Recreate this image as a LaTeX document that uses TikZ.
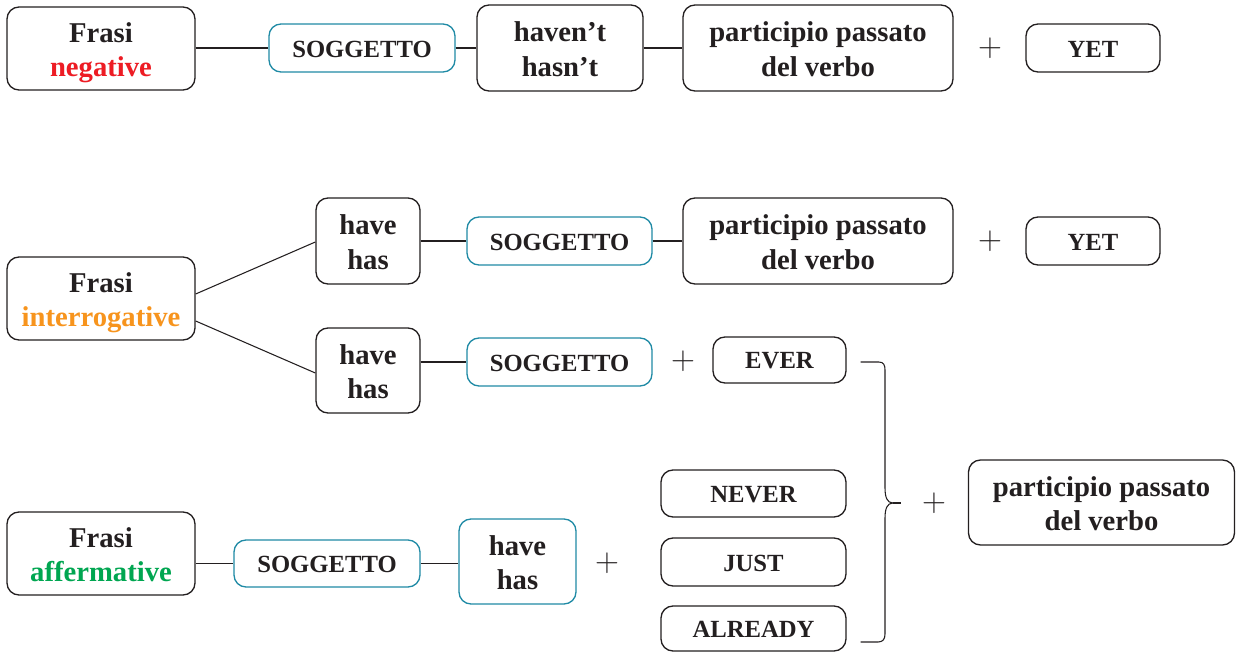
\documentclass[tikz,border=0pt]{standalone}
\usepackage{fontspec}
\setmainfont{Liberation Serif}
\usetikzlibrary{calc}
\definecolor{linec}{HTML}{231F20}
\definecolor{tealc}{HTML}{1F8AA5}
\definecolor{negc}{HTML}{ED1C24}
\definecolor{intc}{HTML}{F7941D}
\definecolor{affc}{HTML}{00A651}
\newcommand\twoline[1]{\raisebox{-3pt}[\height][\depth]{\begin{tabular}{@{}c@{}}#1\end{tabular}}}
\newcommand\oneline[1]{\raisebox{-0.8pt}[\height][\depth]{#1}}
\tikzset{
  box/.style={draw=linec, line width=1pt, rounded corners=9pt, fill=white, inner sep=0pt,
    align=center, text=linec, font=\bfseries\fontsize{21.5}{26.2}\selectfont},
  capsbox/.style={box, font=\bfseries\fontsize{18.5}{21}\selectfont},
  tealbox/.style={draw=tealc},
  sz/.style 2 args={minimum width=#1*0.75pt, minimum height=#2*0.75pt},
  plusn/.style={inner sep=0pt, text=linec, font=\fontsize{34}{34}\selectfont},
  conn/.style={draw=linec, line width=0.8pt},
}
\begin{document}
\begin{tikzpicture}[x=0.75pt,y=-0.75pt]
\useasboundingbox (0,0) rectangle (1237,652);
% row 1: negative
\node[box, sz={188}{83}] (neg) at (101,48.5) {\twoline{Frasi\\\textcolor{negc}{negative}}};
\node[capsbox, tealbox, sz={186}{48}] (sog1) at (362,48) {\oneline{SOGGETTO}};
\node[box, sz={166}{86}] (hav1) at (560,48) {\twoline{haven’t\\hasn’t}};
\node[box, sz={270}{86}] (part1) at (818,48) {\twoline{participio passato\\del verbo}};
\node[plusn] (plus1) at (990,48) {$+$};
\node[capsbox, sz={134}{48}] (yet1) at (1093,48) {\oneline{YET}};
\draw[conn] (sog1.west -| neg.east) -- (sog1.west);
\draw[conn] (sog1.east) -- (hav1.west);
\draw[conn] (hav1.east) -- (part1.west);
% row 2: interrogative
\node[box, sz={188}{83}] (int) at (101,298.5) {\twoline{Frasi\\\textcolor{intc}{interrogative}}};
\node[box, sz={104}{86}] (hh1) at (368,241) {\twoline{have\\has}};
\node[capsbox, tealbox, sz={185}{48}] (sog2) at (559.5,241) {\oneline{SOGGETTO}};
\node[box, sz={270}{86}] (part2) at (818,241) {\twoline{participio passato\\del verbo}};
\node[plusn] (plus2) at (990,241) {$+$};
\node[capsbox, sz={134}{48}] (yet2) at (1093,241) {\oneline{YET}};
\node[box, sz={104}{85}] (hh2) at (368,370.5) {\twoline{have\\has}};
\node[capsbox, tealbox, sz={185}{48}] (sog3) at (559.5,362) {\oneline{SOGGETTO}};
\node[plusn] (plus3) at (683,361) {$+$};
\node[capsbox, sz={133}{46}] (ever) at (779.5,360) {\oneline{EVER}};
\draw[conn] ($(int.east)+(0,-4.5)$) -- ($(hh1.west)+(0,1)$);
\draw[conn] ($(int.east)+(0,22.5)$) -- ($(hh2.west)+(0,2.5)$);
\draw[conn] (hh1.east) -- (sog2.west);
\draw[conn] (sog2.east) -- (part2.west);
\draw[conn] (sog3.west -| hh2.east) -- (sog3.west);
% row 3: affermative
\node[box, sz={188}{83}] (aff) at (101,553.5) {\twoline{Frasi\\\textcolor{affc}{affermative}}};
\node[capsbox, tealbox, sz={186}{47}] (sog4) at (327,563.5) {\oneline{SOGGETTO}};
\node[box, tealbox, sz={117}{85}] (hh3) at (517.5,561.5) {\twoline{have\\has}};
\node[plusn] (plus5) at (607,563) {$+$};
\node[capsbox, sz={185}{47}] (never) at (753.5,493.5) {\oneline{NEVER}};
\node[capsbox, sz={185}{48}] (just) at (753.5,562) {\oneline{JUST}};
\node[capsbox, sz={185}{45}] (already) at (753.5,628.5) {\oneline{ALREADY}};
\draw[conn] (sog4.west -| aff.east) -- (sog4.west);
\draw[conn] (sog4.east) -- (sog4.east -| hh3.west);
% brace and final
\coordinate (bt) at ($(ever.east)+(14,2)$);
\coordinate (bb) at ($(already.east)+(14,13.5)$);
\coordinate (bm) at (893,503);
\node[plusn] (plus4) at (934,503) {$+$};
\node[box, sz={266}{85}] (part3) at (1101.5,502.5) {\twoline{participio passato\\del verbo}};
\draw[conn] (bt) -- ++(18,0) .. controls +(5,0) and (885,365) .. (885,370)
  -- (885,488) .. controls (885,497) and (887,503) .. (bm)
  .. controls (887,503) and (885,509) .. (885,518)
  -- (885,634) .. controls (885,639) and (883,642) .. (878,642) -- (bb);
\draw[conn] (bm) -- (901,503);
\end{tikzpicture}
\end{document}
